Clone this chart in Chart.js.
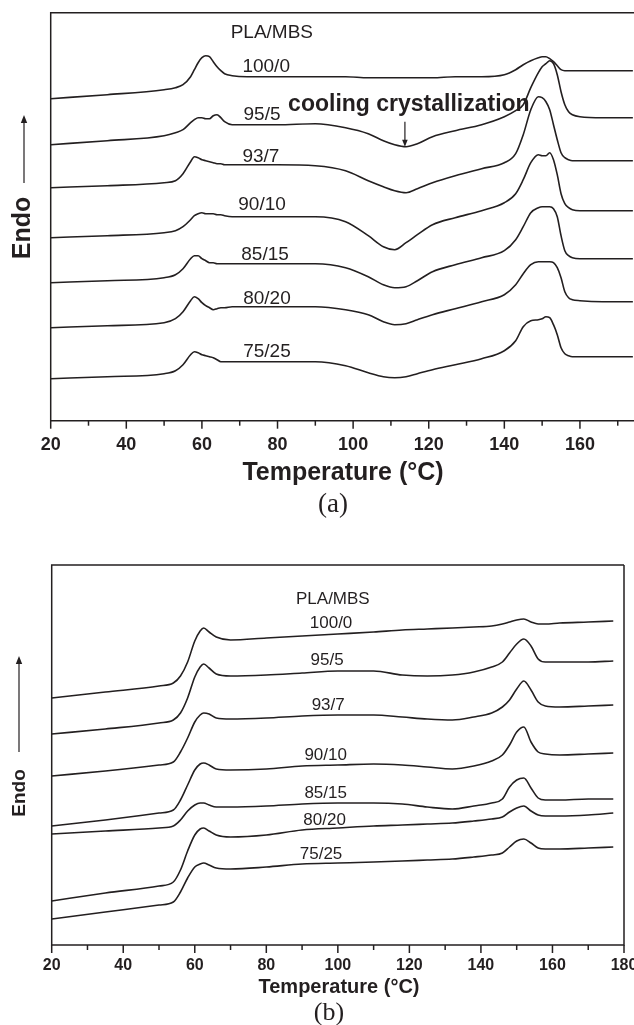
<!DOCTYPE html>
<html>
<head>
<meta charset="utf-8">
<script src="https://cdn.jsdelivr.net/npm/chart.js@4.4.1/dist/chart.umd.min.js"></script>
<style>
  html, body { margin: 0; padding: 0; background: #fff; }
  body { width: 634px; height: 1025px; position: relative; overflow: hidden; }
  .panel { position: absolute; left: 0; width: 634px; }
  #panelA { top: 0; height: 530px; }
  #panelB { top: 530px; height: 495px; }
</style>
</head>
<body>
<div class="panel" id="panelA"><canvas id="coolingChart"></canvas></div>
<div class="panel" id="panelB"><canvas id="heatingChart"></canvas></div>
<script>
// PLA/MBS blend ratios, same order in both panels
const blends = ['100/0', '95/5', '93/7', '90/10', '85/15', '80/20', '75/25'];

// (a) temperatures (°C) and heat flow (a.u., endo up, curves offset)
const tempA = [20, 35, 50, 53, 55, 57, 58, 59, 60, 61, 62, 63, 64, 65, 66, 68, 72, 80, 90, 98,
  104, 108, 111, 114, 117, 121, 127, 134, 140, 143, 145, 147, 149, 150, 151, 152, 153, 154, 155, 156,
  157, 158, 160, 166, 174];
const coolA100_0 = [322, 326, 331, 333, 336, 344, 351, 358, 363, 365, 364, 359, 354, 350, 347, 345, 344, 344, 344, 344,
  343, 343, 343, 343, 343, 343, 344, 344, 346, 351, 356, 360, 363, 364, 364, 362, 359, 355, 351, 350,
  350, 350, 350, 350, 350];
const coolA95_5 = [276, 280, 285, 288, 291, 298, 301, 303, 303, 302, 302, 305, 306, 303, 299, 296, 296, 296, 297, 293,
  287, 280, 276, 274, 277, 284, 290, 296, 304, 310, 316, 333, 348, 354, 357, 360, 357, 346, 329, 316,
  309, 306, 304, 303, 303];
const coolA93_7 = [233, 235, 238, 240, 247, 259, 264, 263, 261, 260, 259, 258, 257, 257, 256, 256, 256, 256, 255, 250,
  240, 234, 230, 228, 232, 238, 245, 252, 258, 267, 286, 311, 324, 323, 319, 311, 296, 281, 268, 263,
  261, 260, 260, 260, 260];
const coolA90_10 = [183, 185, 188, 190, 194, 201, 205, 207, 208, 207, 207, 207, 206, 206, 205, 204, 204, 204, 204, 199,
  185, 174, 171, 178, 186, 196, 203, 210, 218, 227, 241, 258, 266, 265, 265, 268, 261, 246, 227, 217,
  213, 211, 210, 210, 210];
const coolA85_15 = [138, 140, 143, 146, 152, 162, 165, 165, 162, 160, 158, 158, 157, 157, 157, 157, 157, 157, 157, 153,
  144, 136, 133, 134, 140, 149, 156, 163, 170, 181, 194, 208, 213, 214, 214, 214, 212, 204, 185, 170,
  165, 163, 162, 162, 162];
const coolA80_20 = [93, 95, 98, 102, 109, 120, 124, 122, 118, 115, 113, 111, 112, 113, 113, 114, 114, 114, 114, 111,
  106, 99, 96, 97, 101, 106, 112, 119, 126, 136, 147, 156, 159, 159, 159, 159, 158, 153, 143, 129,
  123, 121, 120, 119, 119];
const coolA75_25 = [42, 44, 47, 50, 56, 66, 69, 68, 66, 65, 64, 63, 61, 59, 59, 59, 59, 59, 59, 55,
  48, 44, 43, 44, 47, 51, 56, 62, 70, 80, 94, 100, 101, 102, 104, 103, 96, 86, 73, 67,
  65, 64, 64, 64, 64];

// (b) temperatures (°C) and heat flow (a.u.)
const tempB = [20, 35, 50, 54, 56, 58, 60, 61.5, 62.5, 64, 66, 70, 80, 90, 100, 110, 118, 125, 132, 138,
  143, 146, 148, 150, 152, 154, 156, 158, 162, 170, 177];
const heatB100_0 = [247, 253, 259, 262, 269, 283, 304, 314, 317, 313, 308, 305, 307, 309, 311, 313, 315, 316, 317, 318,
  319, 321, 323, 325, 326, 323, 321, 321, 322, 323, 324];
const heatB95_5 = [211, 216, 222, 225, 232, 247, 268, 278, 281, 277, 271, 269, 270, 272, 274, 274, 270, 269, 270, 273,
  278, 283, 292, 301, 306, 299, 286, 283, 283, 283, 284];
const heatB93_7 = [169, 174, 180, 183, 193, 207, 223, 230, 232, 231, 227, 226, 227, 229, 230, 230, 228, 226, 225, 228,
  232, 238, 245, 256, 264, 255, 243, 239, 238, 239, 240];
const heatB90_10 = [119, 125, 132, 135, 145, 160, 175, 181, 182, 180, 176, 175, 176, 179, 180, 181, 180, 178, 176, 179,
  184, 190, 200, 213, 218, 203, 193, 191, 190, 191, 192];
const heatB85_15 = [111, 114, 117, 119, 125, 134, 140, 142, 142, 140, 138, 138, 139, 141, 142, 142, 141, 138, 136, 139,
  142, 146, 158, 165, 167, 157, 147, 145, 145, 146, 146];
const heatB80_20 = [44, 52, 59, 63, 75, 94, 110, 116, 117, 114, 110, 108, 110, 115, 117, 119, 120, 121, 122, 124,
  126, 128, 133, 137, 139, 134, 130, 129, 129, 130, 132];
const heatB75_25 = [26, 33, 40, 43, 53, 67, 78, 81, 82, 80, 77, 76, 78, 81, 82, 83, 84, 85, 86, 88,
  90, 92, 98, 104, 106, 102, 97, 96, 96, 97, 98];

// x tick labels
const ticksA = [20, 40, 60, 80, 100, 120, 140, 160];
const ticksB = [20, 40, 60, 80, 100, 120, 140, 160, 180];

const ink = '#231f20';
const sans = "'Liberation Sans', Arial, Helvetica, sans-serif";
const serif = "'Liberation Serif', 'Times New Roman', serif";

function arrow(ctx, x, yFrom, yTo, head) {
  const dir = yTo < yFrom ? 1 : -1;
  ctx.beginPath();
  ctx.moveTo(x, yFrom);
  ctx.lineTo(x, yTo + dir * head * 0.6);
  ctx.stroke();
  ctx.beginPath();
  ctx.moveTo(x, yTo);
  ctx.lineTo(x - head * 0.4, yTo + dir * head);
  ctx.lineTo(x + head * 0.4, yTo + dir * head);
  ctx.closePath();
  ctx.fill();
}

// frame, ticks, axis texts and curve labels
function decorations(p) {
  return {
    id: 'decorations',
    afterDraw(chart) {
      const ctx = chart.ctx;
      const area = chart.chartArea;
      const xs = chart.scales.x, ys = chart.scales.y;
      ctx.save();
      ctx.strokeStyle = ink;
      ctx.fillStyle = ink;
      ctx.lineWidth = 1.5;

      ctx.beginPath();
      ctx.moveTo(area.right + (p.rightBorder ? 0 : 2), area.top);
      ctx.lineTo(area.left, area.top);
      ctx.lineTo(area.left, area.bottom);
      ctx.lineTo(area.right + (p.rightBorder ? 0 : 2), area.bottom);
      if (p.rightBorder) ctx.lineTo(area.right, area.top);
      ctx.stroke();

      for (let t = xs.min; t <= xs.max + 0.01; t += 10) {
        const x = xs.getPixelForValue(t);
        ctx.beginPath();
        ctx.moveTo(x, area.bottom);
        ctx.lineTo(x, area.bottom + (t % 20 === 0 ? 8 : 5));
        ctx.stroke();
      }

      ctx.textAlign = 'center';
      ctx.textBaseline = 'middle';
      ctx.font = 'bold ' + p.tickSize + 'px ' + sans;
      p.ticks.forEach(t => ctx.fillText(String(t), xs.getPixelForValue(t), area.bottom + p.tickGap));

      ctx.font = 'bold ' + p.titleSize + 'px ' + sans;
      ctx.fillText('Temperature (\u00B0C)', p.titleX, area.bottom + p.titleGap);
      ctx.font = p.captionSize + 'px ' + serif;
      ctx.fillText(p.caption, p.titleX - 10, area.bottom + p.captionGap);

      ctx.save();
      ctx.translate(p.endoX, p.endoY);
      ctx.rotate(-Math.PI / 2);
      ctx.font = 'bold ' + p.endoSize + 'px ' + sans;
      ctx.fillText('Endo', 0, 0);
      ctx.restore();
      ctx.lineWidth = 1.2;
      arrow(ctx, p.arrowX, p.arrowBottom, p.arrowTop, 8);

      ctx.font = p.labelSize + 'px ' + sans;
      ctx.fillText('PLA/MBS', xs.getPixelForValue(p.header[0]), ys.getPixelForValue(p.header[1]));
      blends.forEach((b, i) => {
        ctx.fillText(b, xs.getPixelForValue(p.labelT[i]), ys.getPixelForValue(p.labelH[i]));
      });

      if (p.note) {
        ctx.font = 'bold ' + p.note.size + 'px ' + sans;
        ctx.textAlign = 'left';
        ctx.fillText(p.note.text, xs.getPixelForValue(p.note.t), ys.getPixelForValue(p.note.h));
        const ax = xs.getPixelForValue(p.note.arrowT);
        arrow(ctx, ax, ys.getPixelForValue(p.note.arrowFrom), ys.getPixelForValue(p.note.arrowTo), 7);
      }
      ctx.restore();
    }
  };
}

function makeChart(id, temps, series, p) {
  return new Chart(document.getElementById(id), {
    type: 'line',
    data: {
      datasets: series.map((s, k) => ({
        label: blends[k],
        data: temps.map((t, i) => ({ x: t, y: s[i] })),
        borderColor: ink,
        borderWidth: 1.6,
        pointRadius: 0,
        fill: false,
        cubicInterpolationMode: 'monotone'
      }))
    },
    options: {
      responsive: true,
      maintainAspectRatio: false,
      animation: false,
      layout: { padding: p.padding },
      plugins: { legend: { display: false }, tooltip: { enabled: false } },
      scales: {
        x: { type: 'linear', min: p.xMin, max: p.xMax, display: false },
        y: { min: 0, max: p.yMax, display: false }
      }
    },
    plugins: [decorations(p)]
  });
}

makeChart('coolingChart', tempA,
  [coolA100_0, coolA95_5, coolA93_7, coolA90_10, coolA85_15, coolA80_20, coolA75_25], {
    padding: { left: 50.7, top: 12.7, right: 0, bottom: 109.3 },
    xMin: 20, xMax: 174.3, yMax: 408, rightBorder: false,
    ticks: ticksA, tickSize: 18, tickGap: 24,
    titleSize: 25, titleX: 343, titleGap: 52, caption: '(a)', captionSize: 27, captionGap: 84,
    endoX: 23, endoY: 228, endoSize: 25, arrowX: 24, arrowBottom: 183, arrowTop: 115,
    labelSize: 19, header: [78.5, 388],
    labelT: [77, 75.9, 75.6, 75.9, 76.7, 77.2, 77.2],
    labelH: [354, 306, 264, 216, 166, 122, 69],
    note: { text: 'cooling crystallization', size: 23, t: 82.8, h: 316, arrowT: 113.7, arrowFrom: 299, arrowTo: 274 }
  });

makeChart('heatingChart', tempB,
  [heatB100_0, heatB95_5, heatB93_7, heatB90_10, heatB85_15, heatB80_20, heatB75_25], {
    padding: { left: 51.7, top: 35, right: 10, bottom: 80 },
    xMin: 20, xMax: 180, yMax: 380, rightBorder: true,
    ticks: ticksB, tickSize: 16, tickGap: 21,
    titleSize: 20, titleX: 339, titleGap: 42, caption: '(b)', captionSize: 26, captionGap: 68,
    endoX: 20, endoY: 263, endoSize: 19, arrowX: 19, arrowBottom: 222, arrowTop: 126,
    labelSize: 17, header: [98.6, 346],
    labelT: [98.1, 97, 97.3, 96.6, 96.6, 96.3, 95.3],
    labelH: [322, 285, 240, 190, 152, 125, 91]
  });
</script>
</body>
</html>
